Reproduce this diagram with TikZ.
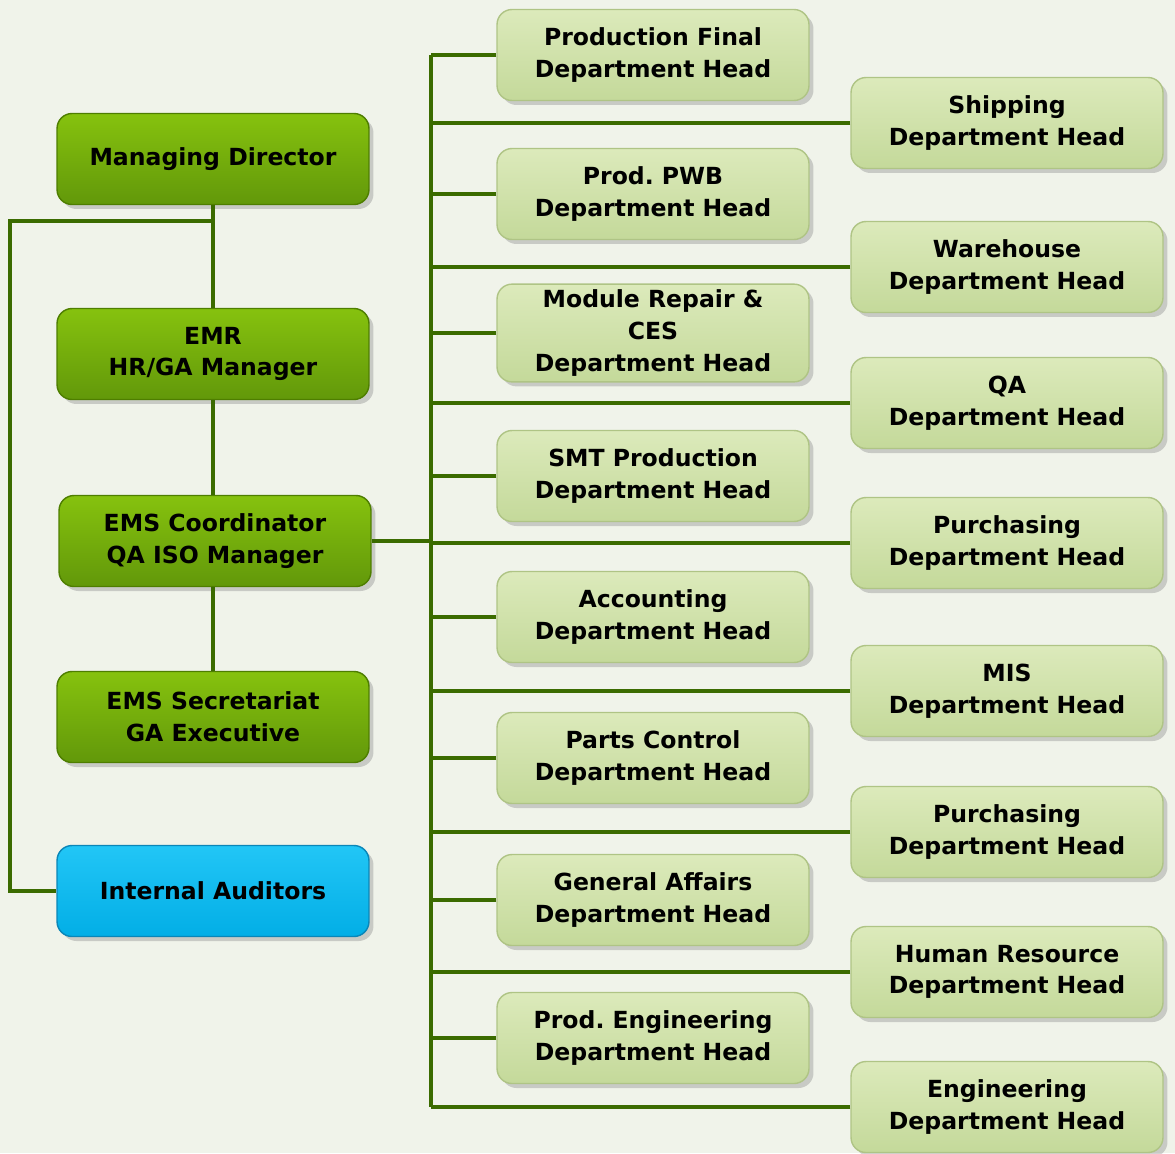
\documentclass[tikz,border=0pt]{standalone}
\usepackage{fontspec}
\setmainfont{DejaVu Sans}
\frenchspacing
\usetikzlibrary{shadows}
\definecolor{linegreen}{HTML}{3B6B00}
\definecolor{darktop}{HTML}{86C20E}
\definecolor{darkbot}{HTML}{62980A}
\definecolor{darkedge}{HTML}{4E7E00}
\definecolor{lighttop}{HTML}{DCEABB}
\definecolor{lightbot}{HTML}{C4D99A}
\definecolor{lightedge}{HTML}{AFC485}
\definecolor{bluetop}{HTML}{22C6F6}
\definecolor{bluebot}{HTML}{02AEE6}
\definecolor{blueedge}{HTML}{0A86B8}
\definecolor{paper}{HTML}{F0F3EA}
\tikzset{
  box/.style={rounded corners=0.3cm, minimum width=6.24cm, minimum height=1.82cm,
    align=center, font=\fontsize{13.4}{18}\selectfont\bfseries, line width=0.8pt,
    drop shadow={shadow xshift=0.09cm, shadow yshift=-0.09cm, opacity=0.35}},
  mgr/.style={box, draw=darkedge, top color=darktop, bottom color=darkbot},
  dept/.style={box, draw=lightedge, top color=lighttop, bottom color=lightbot},
  audit/.style={box, draw=blueedge, top color=bluetop, bottom color=bluebot},
  link/.style={draw=linegreen, line width=2.6pt}
}
\begin{document}
\begin{tikzpicture}[x=0.02cm, y=-0.02cm]
  \fill[paper] (0,0) rectangle (1175,1153);
  \useasboundingbox (0,0) rectangle (1175,1153);
  % left column
  \node[mgr] (md) at (213,159) {Managing Director};
  \node[mgr] (emr) at (213,354) {EMR\\HR/GA Manager};
  \node[mgr] (emsc) at (215,541) {EMS Coordinator\\QA ISO Manager};
  \node[mgr] (emss) at (213,717) {EMS Secretariat\\GA Executive};
  \node[audit] (ia) at (213,891) {Internal Auditors};
  % middle column
  \node[dept] (pfinal) at (653,55) {Production Final\\Department Head};
  \node[dept] (ppwb) at (653,194) {Prod. PWB\\Department Head};
  \node[dept] (modrep) at (653,333) {Module Repair \&\\CES\\Department Head};
  \node[dept] (smt) at (653,476) {SMT Production\\Department Head};
  \node[dept] (acct) at (653,617) {Accounting\\Department Head};
  \node[dept] (parts) at (653,758) {Parts Control\\Department Head};
  \node[dept] (ga) at (653,900) {General Affairs\\Department Head};
  \node[dept] (proeng) at (653,1038) {Prod. Engineering\\Department Head};
  % right column
  \node[dept] (ship) at (1007,123) {Shipping\\Department Head};
  \node[dept] (wh) at (1007,267) {Warehouse\\Department Head};
  \node[dept] (qa) at (1007,403) {QA\\Department Head};
  \node[dept] (purch1) at (1007,543) {Purchasing\\Department Head};
  \node[dept] (mis) at (1007,691) {MIS\\Department Head};
  \node[dept] (purch2) at (1007,832) {Purchasing\\Department Head};
  \node[dept] (hr) at (1007,972) {Human Resource\\Department Head};
  \node[dept] (eng) at (1007,1107) {Engineering\\Department Head};
  \coordinate (bustop) at (431,55);
  \coordinate (busbot) at (431,1107);
  \coordinate (mdjoin) at (213,221);
  \coordinate (leftc) at (10,221);
  \begin{scope}[link]
    \draw (md.south) -- (emr.north);
    \draw (emr.south) -- (emr.south |- emsc.north);
    \draw (emr.south |- emsc.south) -- (emss.north);
    \draw (mdjoin) -- (leftc) |- (ia.west);
    \draw (bustop) -- (busbot);
    \draw (emsc.east) -- (emsc.east -| bustop);
    \foreach \n in {pfinal,ppwb,modrep,smt,acct,parts,ga,proeng}
      \draw (\n.west) -- (\n.west -| bustop);
    \foreach \n in {ship,wh,qa,purch1,mis,purch2,hr,eng}
      \draw (\n.west) -- (\n.west -| bustop);
  \end{scope}
\end{tikzpicture}
\end{document}
